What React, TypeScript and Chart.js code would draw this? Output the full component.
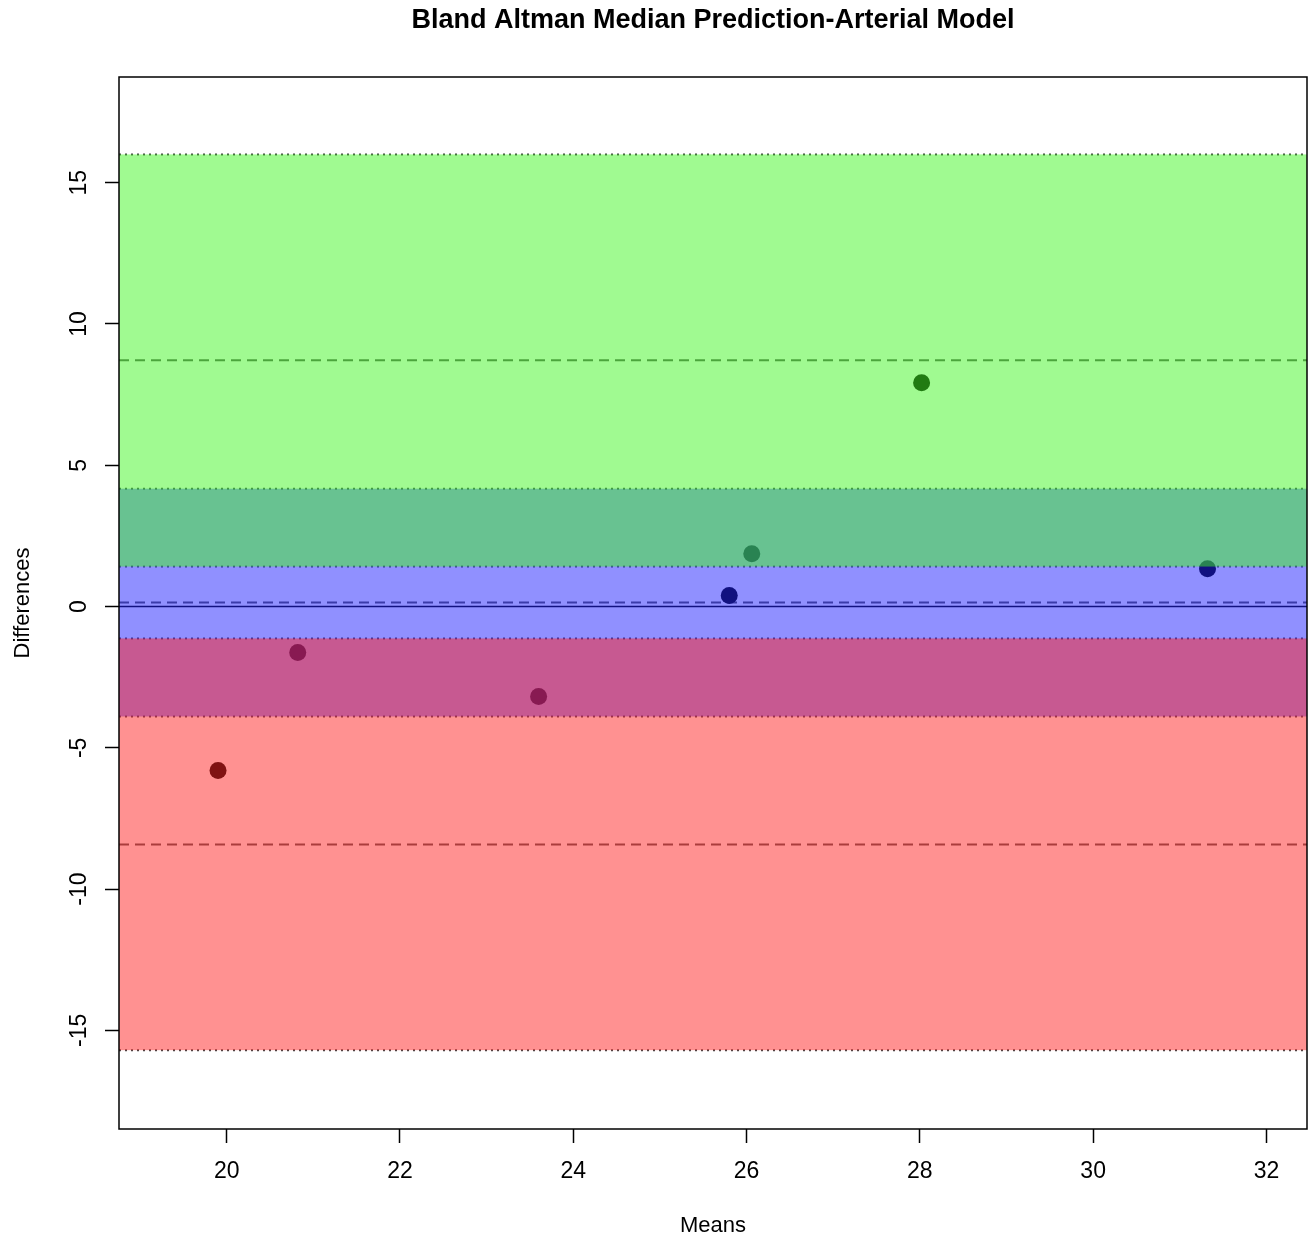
import React, { useEffect, useRef } from "react";
import { Chart, registerables } from "chart.js";

Chart.register(...registerables);

const TITLE = "Bland Altman Median Prediction-Arterial Model";
const X_LABEL = "Means";
const Y_LABEL = "Differences";

const xTicks = [20, 22, 24, 26, 28, 30, 32];
const yTicks = [-15, -10, -5, 0, 5, 10, 15];
const xRange = [18.757, 32.468];
const yRange = [-18.49, 18.74];

const means = [19.9, 20.82, 23.6, 25.8, 26.06, 28.02, 31.32];
const diffs = [-5.8, -1.63, -3.18, 0.39, 1.87, 7.92, 1.34];

// reference lines: [lower LoA, mean diff, upper LoA]
const refLines = [-8.42, 0.14, 8.72];
// confidence bands: [low, high]
const meanBand = [-3.89, 4.17];
const upperBand = [1.415, 16.0];
const lowerBand = [-15.7, -1.13];

const FONT = "'Liberation Sans', Arial, Helvetica, sans-serif";

export default function App() {
  const ref = useRef<HTMLCanvasElement | null>(null);

  useEffect(() => {
    document.body.style.margin = "0";
    const canvas = ref.current;
    if (!canvas) return;

    const linesPlugin = {
      id: "baLines",
      beforeDatasetsDraw(chart: any) {
        const { ctx, chartArea: a, scales } = chart;
        const y = scales.y;
        ctx.save();
        ctx.beginPath();
        ctx.rect(a.left, a.top, a.right - a.left, a.bottom - a.top);
        ctx.clip();
        // dotted band boundaries
        const bounds = [...meanBand, ...upperBand, ...lowerBand];
        ctx.strokeStyle = "#444";
        ctx.lineWidth = 2;
        ctx.setLineDash([2, 4]);
        bounds.forEach((v) => {
          const py = y.getPixelForValue(v);
          ctx.beginPath();
          ctx.moveTo(a.left, py);
          ctx.lineTo(a.right, py);
          ctx.stroke();
        });
        // dashed reference lines
        ctx.strokeStyle = "#555";
        ctx.setLineDash([10, 6]);
        refLines.forEach((v) => {
          const py = y.getPixelForValue(v);
          ctx.beginPath();
          ctx.moveTo(a.left, py);
          ctx.lineTo(a.right, py);
          ctx.stroke();
        });
        // zero line
        ctx.setLineDash([]);
        ctx.strokeStyle = "#000";
        ctx.lineWidth = 1.5;
        const p0 = y.getPixelForValue(0);
        ctx.beginPath();
        ctx.moveTo(a.left, p0);
        ctx.lineTo(a.right, p0);
        ctx.stroke();
        ctx.restore();
      },
      afterDatasetsDraw(chart: any) {
        const { ctx, chartArea: a, scales } = chart;
        const y = scales.y;
        ctx.save();
        ctx.beginPath();
        ctx.rect(a.left, a.top, a.right - a.left, a.bottom - a.top);
        ctx.clip();
        const fillBand = (b: number[], color: string) => {
          const top = y.getPixelForValue(b[1]);
          const bot = y.getPixelForValue(b[0]);
          ctx.fillStyle = color;
          ctx.fillRect(a.left, top, a.right - a.left, bot - top);
        };
        fillBand(meanBand, "rgba(33,33,255,0.5)");
        fillBand(upperBand, "rgba(65,245,35,0.5)");
        fillBand(lowerBand, "rgba(255,35,35,0.5)");
        ctx.restore();
      },
      afterDraw(chart: any) {
        const { ctx, chartArea: a, scales } = chart;
        ctx.save();
        // box
        ctx.strokeStyle = "#000";
        ctx.lineWidth = 1.5;
        ctx.setLineDash([]);
        ctx.strokeRect(a.left, a.top, a.right - a.left, a.bottom - a.top);
        // title centred over the plot region
        ctx.fillStyle = "#000";
        ctx.font = `bold 27px ${FONT}`;
        ctx.textAlign = "center";
        ctx.textBaseline = "middle";
        ctx.fillText(TITLE, (a.left + a.right) / 2, 21);
        // tick labels
        ctx.font = `23px ${FONT}`;
        xTicks.forEach((v) => {
          const px = scales.x.getPixelForValue(v);
          ctx.fillText(String(v), px, 1172);
        });
        yTicks.forEach((v) => {
          const py = scales.y.getPixelForValue(v);
          ctx.save();
          ctx.translate(80, py);
          ctx.rotate(-Math.PI / 2);
          ctx.fillText(String(v), 0, 0);
          ctx.restore();
        });
        ctx.restore();
      },
    };

    const chart = new Chart(canvas, {
      type: "scatter",
      data: {
        datasets: [
          {
            data: means.map((m, i) => ({ x: m, y: diffs[i] })),
            backgroundColor: "#000",
            borderWidth: 0,
            pointRadius: 8.5,
            pointHoverRadius: 8.5,
          },
        ],
      },
      options: {
        responsive: false,
        animation: false,
        events: [],
        layout: { autoPadding: false, padding: { left: 0, right: 5, top: 77, bottom: 0 } },
        plugins: {
          legend: { display: false },
          tooltip: { enabled: false },
          title: { display: false },
        },
        scales: {
          x: {
            type: "linear",
            min: xRange[0],
            max: xRange[1],
            afterBuildTicks: (s: any) => {
              s.ticks = xTicks.map((v) => ({ value: v }));
            },
            afterFit: (s: any) => {
              s.height = 110;
            },
            grid: {
              display: true,
              drawOnChartArea: false,
              drawTicks: true,
              tickLength: 14,
              tickColor: "#000",
              tickWidth: 1.5,
            },
            border: { display: false },
            ticks: { display: false },
            title: {
              display: true,
              text: X_LABEL,
              color: "#000",
              font: { family: FONT, size: 22 },
              padding: { top: 0, bottom: 0 },
            },
          },
          y: {
            type: "linear",
            min: yRange[0],
            max: yRange[1],
            afterBuildTicks: (s: any) => {
              s.ticks = yTicks.map((v) => ({ value: v }));
            },
            afterFit: (s: any) => {
              s.width = 119;
            },
            grid: {
              display: true,
              drawOnChartArea: false,
              drawTicks: true,
              tickLength: 14,
              tickColor: "#000",
              tickWidth: 1.5,
            },
            border: { display: false },
            ticks: { display: false },
            title: {
              display: true,
              text: Y_LABEL,
              color: "#000",
              font: { family: FONT, size: 22 },
              padding: { top: 10, bottom: 0 },
            },
          },
        },
      },
      plugins: [linesPlugin],
    } as any);

    return () => chart.destroy();
  }, []);

  return (
    <div style={{ width: 1312, height: 1239, background: "#fff" }}>
      <canvas ref={ref} width={1312} height={1239} />
    </div>
  );
}
